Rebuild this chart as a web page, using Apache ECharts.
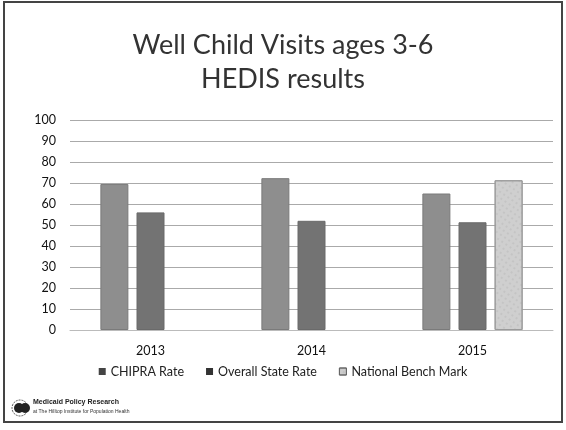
<!DOCTYPE html>
<html><head><meta charset="utf-8">
<script src="https://cdn.jsdelivr.net/npm/echarts@6/dist/echarts.min.js"></script>
<style>html,body{margin:0;padding:0;background:#fff}#c{width:566px;height:430px}</style>
</head><body><div id="c"></div>
<script>
const categories = ['2013', '2014', '2015'];
const chipraRate = [69.5, 72.3, 65.0];
const overallStateRate = [56.0, 52.0, 51.3];
const nationalBenchMark = [null, null, 71.3];
const yTicks = {min: 0, max: 100, interval: 10};

const chart = echarts.init(document.getElementById('c'));
const font = 'Lato, "Open Sans", sans-serif';
chart.setOption({
  backgroundColor: '#fff',
  animation: false,
  title: {
    text: 'Well Child Visits ages 3-6\nHEDIS results',
    left: 'center', top: 23,
    textStyle: {fontFamily: font, fontSize: 27, fontWeight: 'normal', color: '#333', lineHeight: 34}
  },
  legend: {
    bottom: 47, left: 'center', itemWidth: 7, itemHeight: 7, itemGap: 22,
    icon: 'rect',
    textStyle: {fontFamily: font, fontSize: 12.5, color: '#222'},
    data: [
      {name: 'CHIPRA Rate', itemStyle: {color: '#444', borderWidth: 0}},
      {name: 'Overall State Rate', itemStyle: {color: '#333', borderWidth: 0}},
      {name: 'National Bench Mark', itemStyle: {color: '#ccc', borderColor: '#666', borderWidth: 1}}
    ]
  },
  grid: {left: 70, right: 13, top: 120, bottom: 100, containLabel: false},
  xAxis: {
    type: 'category', data: categories,
    axisTick: {show: false},
    axisLine: {lineStyle: {color: '#bbb'}},
    axisLabel: {fontFamily: font, fontSize: 12.5, color: '#111', margin: 14}
  },
  yAxis: {
    type: 'value', min: yTicks.min, max: yTicks.max, interval: yTicks.interval,
    axisLine: {show: false}, axisTick: {show: false},
    axisLabel: {fontFamily: font, fontSize: 12.5, color: '#111', margin: 14},
    splitLine: {lineStyle: {color: '#aaa'}}
  },
  series: [
    {name: 'CHIPRA Rate', type: 'bar', data: chipraRate, barWidth: 28, barGap: '29%',
     itemStyle: {color: '#8e8e8e', borderColor: '#7a7a7a', borderWidth: 1}},
    {name: 'Overall State Rate', type: 'bar', data: overallStateRate, barWidth: 28,
     itemStyle: {color: '#737373', borderColor: '#6a6a6a', borderWidth: 1}},
    {name: 'National Bench Mark', type: 'bar', data: nationalBenchMark, barWidth: 28,
     itemStyle: {color: '#cfcfcf', borderColor: '#9a9a9a', borderWidth: 1,
       decal: {symbol: 'rect', symbolSize: 0.5, color: 'rgba(120,120,120,0.45)', dashArrayX: [2, 3], dashArrayY: [2, 3], rotation: 0.6}}}
  ],
  graphic: [
    {type: 'rect', shape: {x: 4, y: 2, width: 558, height: 420}, style: {fill: 'none', stroke: '#444', lineWidth: 2}, silent: true},
    {type: 'circle', shape: {cx: 20, cy: 408, r: 8}, style: {fill: 'none', stroke: '#555', lineWidth: 1, lineDash: [2, 1]}},
    {type: 'circle', shape: {cx: 19, cy: 408, r: 5}, style: {fill: '#222'}},
    {type: 'circle', shape: {cx: 25, cy: 408, r: 5}, style: {fill: '#222'}},
    {type: 'text', left: 33, top: 399, style: {text: 'Medicaid Policy Research', font: 'bold 7px "Liberation Sans Narrow", sans-serif', fill: '#222'}},
    {type: 'text', left: 33, top: 409, style: {text: 'at The Hilltop Institute for Population Health', font: '5px "Liberation Sans Narrow", sans-serif', fill: '#333'}}
  ]
});
</script></body></html>
